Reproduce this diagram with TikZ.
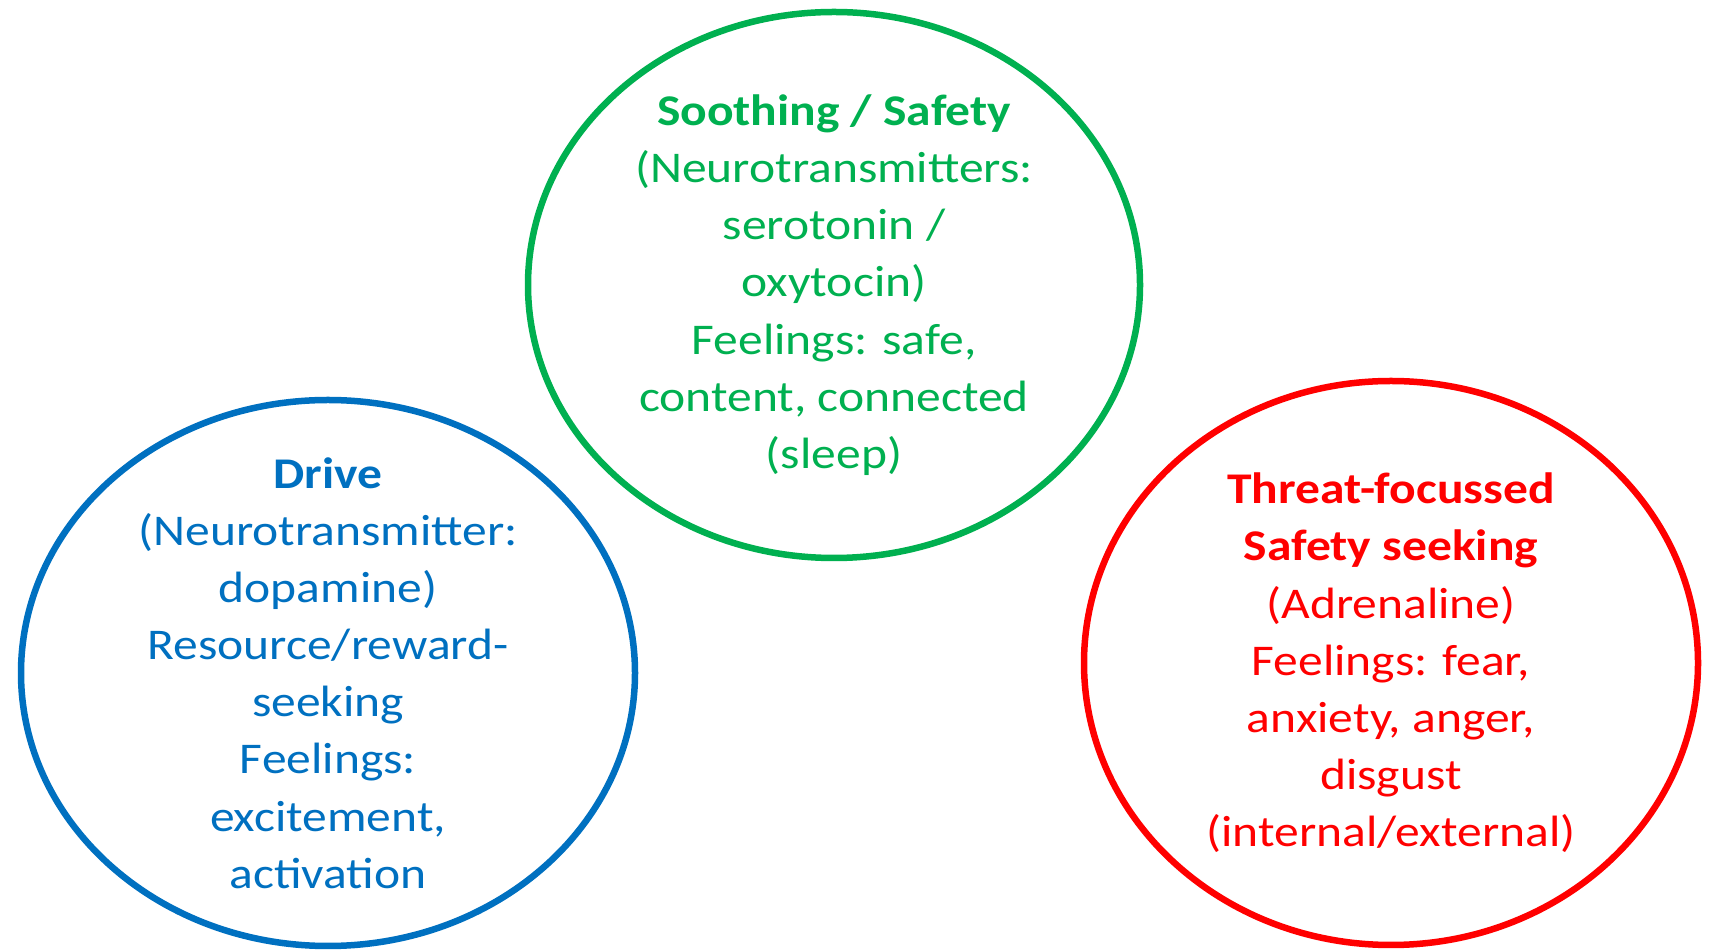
\documentclass[tikz,border=0pt]{standalone}
\usepackage{fontspec}
\setmainfont{Carlito}[FakeStretch=1.13]
\definecolor{soothing_green}{HTML}{00B050}
\definecolor{drive_blue}{HTML}{0070C0}
\definecolor{threat_red}{HTML}{FF0000}
\tikzset{
  system/.style={align=center,inner sep=0bp,font=\fontsize{44}{57.4}\selectfont},
  ring/.style={line width=6.5bp},
}
\begin{document}
\begin{tikzpicture}[line join=bevel,]
%%
\useasboundingbox (0bp,0bp) rectangle (1716bp,951bp);
\node (node_soothing) at (834.0bp,666.0bp) [system,text=soothing_green] {\textbf{Soothing / Safety}\\(Neurotransmitters:\\serotonin /\\oxytocin)\\Feelings: safe,\\content, connected\\(sleep)};
  \node (node_drive) at (328.0bp,278.0bp) [system,text=drive_blue] {\textbf{Drive}\\(Neurotransmitter:\\dopamine)\\Resource/reward-\\seeking\\Feelings:\\excitement,\\activation};
  \node (node_threat) at (1391.0bp,288.0bp) [system,text=threat_red] {\textbf{Threat-focussed}\\\textbf{Safety seeking}\\(Adrenaline)\\Feelings: fear,\\anxiety, anger,\\disgust\\(internal/external)};
  \draw [ring,soothing_green] (node_soothing.center) ellipse [x radius=306bp,y radius=273bp];
  \draw [ring,drive_blue] (node_drive.center) ellipse [x radius=307bp,y radius=273bp];
  \draw [ring,threat_red] (node_threat.center) ellipse [x radius=307bp,y radius=282bp];
%
\end{tikzpicture}
\end{document}
